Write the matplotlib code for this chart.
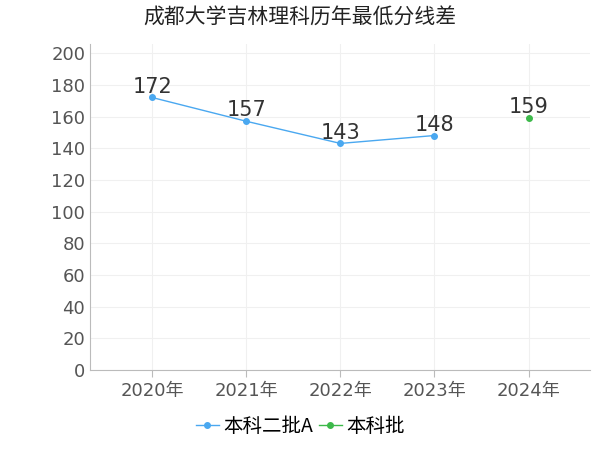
import matplotlib
matplotlib.use("Agg")
import matplotlib.pyplot as plt

plt.rcParams['font.family'] = ['DejaVu Sans', 'Noto Sans CJK SC']

years = ['2020年', '2021年', '2022年', '2023年', '2024年']
s1_x = [0, 1, 2, 3]
s1_y = [172, 157, 143, 148]
s2_x = [4]
s2_y = [159]
yticks = list(range(0, 201, 20))

fig = plt.figure(figsize=(6, 4.5), dpi=100)
ax = fig.add_axes([0.15, 0.178, 0.833, 0.725])
ax.plot(s1_x, s1_y, color='#4aa8f0', lw=1, marker='o', ms=4, label='本科二批A')
ax.plot(s2_x, s2_y, color='#3cb94a', lw=1, marker='o', ms=4, label='本科批')
for x, y in zip(s1_x + s2_x, s1_y + s2_y):
    ax.text(x, y + 0.5, str(y), ha='center', va='bottom', fontsize=15, color='#333333')
ax.set_xlim(-0.66, 4.65)
ax.set_ylim(0, 206)
ax.set_yticks(yticks)
ax.set_xticks(range(len(years)))
ax.set_xticklabels(years)
ax.tick_params(axis='both', labelsize=13, colors='#555555', length=0)
ax.tick_params(axis='x', length=5, color='#bbbbbb')
ax.grid(True, color='#f0f0f0', lw=0.8)
for s in ['top', 'right']:
    ax.spines[s].set_visible(False)
for s in ['left', 'bottom']:
    ax.spines[s].set_color('#bbbbbb')
fig.text(0.5, 0.985, '成都大学吉林理科历年最低分线差', fontsize=15, ha='center', va='top',
         color='#222222', family=['Noto Sans CJK SC', 'DejaVu Sans'])
fig.legend(loc='lower center', ncol=2, frameon=False, fontsize=14, bbox_to_anchor=(0.5, -0.01),
           handlelength=1.2, columnspacing=0.3, handletextpad=0.2,
           prop={'family': ['Noto Sans CJK SC', 'DejaVu Sans'], 'size': 14})
fig.savefig('out.png')
